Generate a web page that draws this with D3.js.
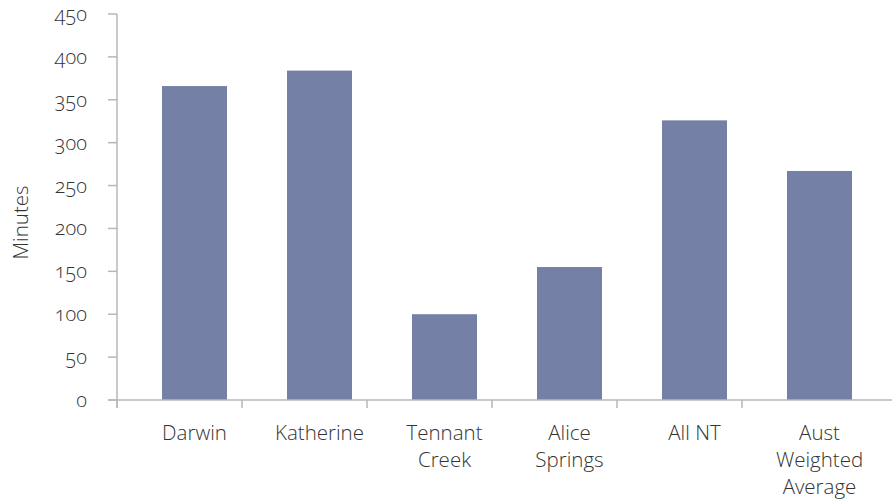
<!DOCTYPE html>
<html>
<head>
<meta charset="utf-8">
<script src="https://cdn.jsdelivr.net/npm/d3@7"></script>
<style>
  body { margin: 0; background: #fff; }
  svg { display: block; font-family: "Open Sans", sans-serif; }
  .lbl { fill: #333; font-weight: 300; font-variant-numeric: oldstyle-nums; font-feature-settings: "onum"; }
</style>
</head>
<body>
<svg id="chart"></svg>
<script>
// data
const categories = ["Darwin", "Katherine", "Tennant Creek", "Alice Springs", "All NT", "Aust Weighted Average"];
const labelLines = [["Darwin"], ["Katherine"], ["Tennant", "Creek"], ["Alice", "Springs"], ["All NT"], ["Aust", "Weighted", "Average"]];
const minutes = [366, 384, 100, 155, 326, 267];
const yTicks = [0, 50, 100, 150, 200, 250, 300, 350, 400, 450];

const W = 892, H = 500;
const mLeft = 117, mBottom = 400, mTop = 14;

const svg = d3.select("#chart").attr("width", W).attr("height", H);

const x = d3.scaleBand().domain(categories).range([mLeft, mLeft + 750]);
const y = d3.scaleLinear().domain([0, 450]).range([mBottom, mTop]);

const axisColor = "#b3b8b8";

// bars sit a little right of band centre, as in the original
const barOff = x.bandwidth() * 0.36, barW = x.bandwidth() * 0.52;

svg.append("g").selectAll("rect")
    .data(categories)
    .join("rect")
    .attr("x", d => x(d) + barOff)
    .attr("width", barW)
    .attr("y", (d, i) => y(minutes[i]))
    .attr("height", (d, i) => y(0) - y(minutes[i]))
    .attr("fill", "#7480a5");

// y axis
const yAxis = svg.append("g");
yAxis.append("line")
    .attr("x1", mLeft).attr("x2", mLeft)
    .attr("y1", y(450)).attr("y2", mBottom + 8)
    .attr("stroke", axisColor).attr("stroke-width", 1.5);
yAxis.selectAll("line.tick")
    .data(yTicks)
    .join("line")
    .attr("class", "tick")
    .attr("x1", mLeft - 9).attr("x2", mLeft)
    .attr("y1", d => y(d)).attr("y2", d => y(d))
    .attr("stroke", axisColor).attr("stroke-width", 1.5);
yAxis.selectAll("text")
    .data(yTicks)
    .join("text")
    .attr("class", "lbl")
    .attr("x", 87)
    .attr("y", d => y(d))
    .attr("dy", "0.35em")
    .attr("text-anchor", "end")
    .style("font-size", "20px")
    .text(d => d);

// x axis
const xAxis = svg.append("g");
xAxis.append("line")
    .attr("x1", mLeft - 9).attr("x2", W)
    .attr("y1", mBottom).attr("y2", mBottom)
    .attr("stroke", axisColor).attr("stroke-width", 1.5);
xAxis.selectAll("line.tick")
    .data(categories)
    .join("line")
    .attr("class", "tick")
    .attr("x1", d => x(d)).attr("x2", d => x(d))
    .attr("y1", mBottom).attr("y2", mBottom + 8)
    .attr("stroke", axisColor).attr("stroke-width", 1.5);

const labels = xAxis.selectAll("text")
    .data(categories)
    .join("text")
    .attr("class", "lbl")
    .attr("text-anchor", "middle")
    .style("font-size", "20.5px")
    .attr("transform", d => `translate(${x(d) + barOff + barW / 2}, 440)`);
labels.selectAll("tspan")
    .data((d, i) => labelLines[i])
    .join("tspan")
    .attr("x", 0)
    .attr("y", (d, j) => j * 27)
    .text(d => d);

// y title
svg.append("text")
    .attr("class", "lbl")
    .attr("transform", "translate(28, 222.5) rotate(-90)")
    .attr("text-anchor", "middle")
    .style("font-size", "20.5px")
    .text("Minutes");
</script>
</body>
</html>
